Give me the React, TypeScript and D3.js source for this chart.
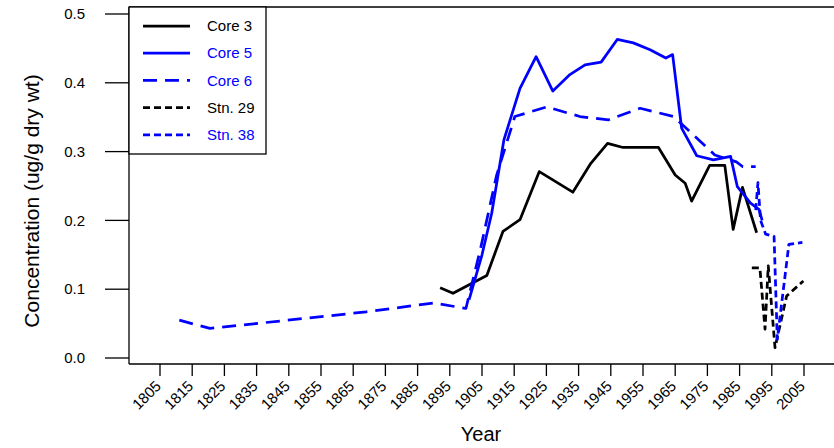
import React from "react";
import * as d3 from "d3";

const xTicks = [1805, 1815, 1825, 1835, 1845, 1855, 1865, 1875, 1885, 1895, 1905, 1915, 1925, 1935, 1945, 1955, 1965, 1975, 1985, 1995, 2005];
const yTicks = [0, 0.1, 0.2, 0.3, 0.4, 0.5];

const core3Years = [1892, 1896, 1906.5, 1911.5, 1916.8, 1922.8, 1933.2, 1938.8, 1944, 1948.8, 1959.8, 1965, 1968.1, 1970.1, 1975.7, 1980.4, 1983, 1985.9, 1990.3];
const core3Vals = [0.102, 0.094, 0.12, 0.184, 0.201, 0.271, 0.241, 0.283, 0.312, 0.306, 0.306, 0.266, 0.254, 0.228, 0.28, 0.28, 0.187, 0.248, 0.182];

const core5Years = [1901, 1905, 1908, 1911.8, 1916.8, 1921.8, 1927, 1932.3, 1937, 1942, 1947, 1952, 1957.2, 1962.1, 1964.2, 1967, 1971.7, 1976.9, 1982.2, 1984.3, 1988.4, 1991, 1992];
const core5Vals = [0.085, 0.15, 0.21, 0.317, 0.392, 0.438, 0.388, 0.412, 0.426, 0.43, 0.463, 0.458, 0.448, 0.436, 0.441, 0.334, 0.294, 0.288, 0.293, 0.249, 0.225, 0.216, 0.2];

const core6Years = [1811, 1820.5, 1869, 1890, 1900, 1904.5, 1909.5, 1915.2, 1925.1, 1935.4, 1944.2, 1954.1, 1964.5, 1977.3, 1984, 1986, 1990];
const core6Vals = [0.055, 0.043, 0.067, 0.08, 0.072, 0.158, 0.265, 0.351, 0.365, 0.351, 0.346, 0.363, 0.351, 0.295, 0.285, 0.278, 0.278];

const stn29Years = [1988.8, 1991.3, 1992.9, 1993.9, 1996, 1999.6, 2004.8];
const stn29Vals = [0.131, 0.131, 0.042, 0.134, 0.015, 0.09, 0.112];

const stn38Years = [1990, 1990.7, 1991.5, 1993.1, 1995.7, 1996.7, 2000.3, 2004.5];
const stn38Vals = [0.215, 0.255, 0.2, 0.18, 0.177, 0.027, 0.165, 0.168];

const seriesNames = ["Core 3", "Core 5", "Core 6", "Stn. 29", "Stn. 38"];

export default function App() {
  const x = d3.scaleLinear().domain([1805, 2005]).range([160, 804]);
  const y = d3.scaleLinear().domain([0, 0.5]).range([358, 14]);
  const line = d3
    .line<[number, number]>()
    .x((d) => x(d[0]))
    .y((d) => y(d[1]));
  const zip = (a: number[], b: number[]) => a.map((v, i) => [v, b[i]] as [number, number]);

  const series = [
    { name: seriesNames[0], data: zip(core3Years, core3Vals), color: "#000000", dash: "" },
    { name: seriesNames[1], data: zip(core5Years, core5Vals), color: "#0000ff", dash: "" },
    { name: seriesNames[2], data: zip(core6Years, core6Vals), color: "#0000ff", dash: "14,8" },
    { name: seriesNames[3], data: zip(stn29Years, stn29Vals), color: "#000000", dash: "7,4" },
    { name: seriesNames[4], data: zip(stn38Years, stn38Vals), color: "#0000ff", dash: "7,4" },
  ];

  const font = "'Liberation Sans', Arial, Helvetica, sans-serif";
  const axisX = 129;
  const axisY = 364;

  return (
    <svg
      width={834}
      height={448}
      style={{ position: "absolute", left: 0, top: 0, display: "block", background: "#fff" }}
      fontFamily={font}
    >
      <rect x={0} y={0} width={834} height={448} fill="#fff" />
      {/* frame */}
      <line x1={axisX} x2={834} y1={7} y2={7} stroke="#000" strokeWidth={1.5} />
      <line x1={axisX} x2={axisX} y1={7} y2={axisY} stroke="#000" strokeWidth={1.3} />
      <line x1={axisX} x2={834} y1={axisY} y2={axisY} stroke="#000" strokeWidth={1.3} />

      {/* y ticks */}
      {yTicks.map((t) => (
        <g key={"y" + t}>
          <line x1={105} x2={axisX} y1={y(t)} y2={y(t)} stroke="#000" strokeWidth={1.3} />
          <text x={85} y={y(t)} dy="0.35em" textAnchor="end" fontSize={15} fill="#000">
            {t.toFixed(1)}
          </text>
        </g>
      ))}

      {/* x ticks */}
      {xTicks.map((t) => (
        <g key={"x" + t}>
          <line x1={x(t)} x2={x(t)} y1={axisY} y2={376} stroke="#000" strokeWidth={1.3} />
          <text
            transform={`translate(${x(t) + 2},${387}) rotate(-45)`}
            textAnchor="end"
            fontSize={15}
            fill="#000"
          >
            {t}
          </text>
        </g>
      ))}

      {/* axis titles */}
      <text x={481} y={441} textAnchor="middle" fontSize={20} fill="#000">
        Year
      </text>
      <text
        transform={`translate(39,201) rotate(-90)`}
        textAnchor="middle"
        fontSize={21}
        fill="#000"
      >
        Concentration (ug/g dry wt)
      </text>

      {/* series */}
      {series.map((s) => (
        <path
          key={s.name}
          d={line(s.data) || ""}
          fill="none"
          stroke={s.color}
          strokeWidth={2.75}
          strokeDasharray={s.dash || undefined}
          strokeLinejoin="round"
        />
      ))}

      {/* legend */}
      <rect x={axisX} y={7} width={137} height={147} fill="#fff" stroke="#000" strokeWidth={1.3} />
      {series.map((s, i) => {
        const ly = 26 + i * 27.2;
        return (
          <g key={"lg" + s.name}>
            <line
              x1={143}
              x2={190}
              y1={ly}
              y2={ly}
              stroke={s.color}
              strokeWidth={2.75}
              strokeDasharray={s.dash || undefined}
            />
            <text x={207} y={ly} dy="0.35em" fontSize={15} fill={s.color}>
              {s.name}
            </text>
          </g>
        );
      })}
    </svg>
  );
}
